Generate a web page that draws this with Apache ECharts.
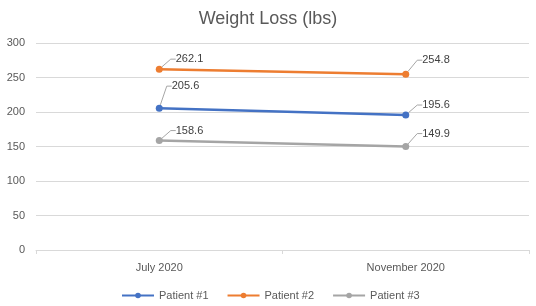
<!DOCTYPE html>
<html><head><meta charset="utf-8">
<script src="https://cdn.jsdelivr.net/npm/echarts@6/dist/echarts.min.js"></script>
<style>html,body{margin:0;padding:0;background:#fff}#c{width:536px;height:306px}</style>
</head><body><div id="c"></div>
<script>
const categories = ["July 2020", "November 2020"];
const patient1 = [205.6, 195.6];
const patient2 = [262.1, 254.8];
const patient3 = [158.6, 149.9];
const yTicks = [0, 50, 100, 150, 200, 250, 300];

const FONT = '"Liberation Sans", Arial, sans-serif';
function mkSeries(name, data, color, layouts) {
  return {
    name, type: 'line', data,
    symbol: 'circle', symbolSize: 7,
    itemStyle: { color },
    lineStyle: { color, width: 2.5 },
    label: { show: true, position: 'right', distance: 4, color: '#404040', fontSize: 11, fontFamily: FONT },
    labelLayout: p => layouts[p.dataIndex],
    labelLine: { show: true, length2: 5, lineStyle: { color: '#a6a6a6', width: 1 } },
    emphasis: { disabled: true }
  };
}
const chart = echarts.init(document.getElementById('c'));
chart.setOption({
  animation: false,
  title: { text: 'Weight Loss (lbs)', left: 'center', top: 5,
    textStyle: { fontSize: 18, fontWeight: 'normal', color: '#595959', fontFamily: FONT } },
  grid: { left: 36, right: 7, top: 43, bottom: 56 },
  xAxis: { type: 'category', data: categories,
    axisLine: { lineStyle: { color: '#d9d9d9' } },
    axisTick: { show: true, length: 4, lineStyle: { color: '#d9d9d9' } },
    axisLabel: { color: '#595959', fontSize: 11, fontFamily: FONT, margin: 12 } },
  yAxis: { type: 'value', min: yTicks[0], max: yTicks[yTicks.length - 1], interval: 50,
    axisLine: { show: false }, axisTick: { show: false },
    splitLine: { lineStyle: { color: '#d9d9d9' } },
    axisLabel: { color: '#595959', fontSize: 11, fontFamily: FONT, margin: 11 } },
  legend: { left: 116, top: 285, itemWidth: 32, itemHeight: 7, itemGap: 18,
    textStyle: { color: '#595959', fontSize: 11, fontFamily: FONT },
    data: ['Patient #1', 'Patient #2', 'Patient #3'] },
  series: [
    mkSeries('Patient #1', patient1, '#4472C4', [{ dx: 5, dy: -22 }, { dx: 9, dy: -10 }]),
    mkSeries('Patient #2', patient2, '#ED7D31', [{ dx: 9, dy: -10 }, { dx: 9, dy: -14 }]),
    mkSeries('Patient #3', patient3, '#A5A5A5', [{ dx: 9, dy: -10 }, { dx: 9, dy: -13 }])
  ]
});
</script></body></html>
